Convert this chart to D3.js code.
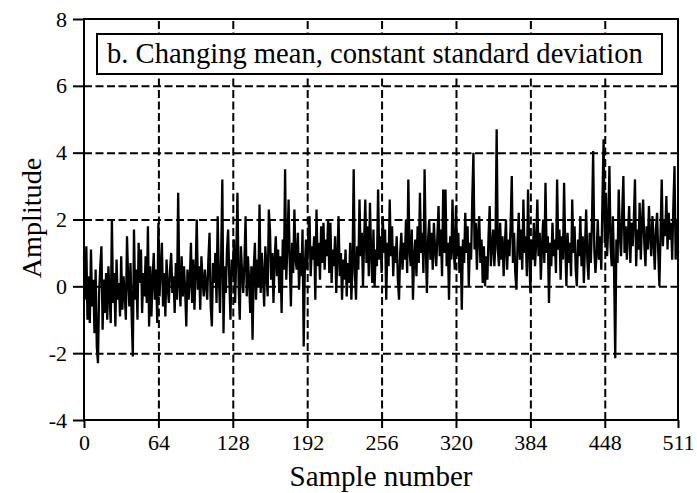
<!DOCTYPE html>
<html>
<head>
<meta charset="utf-8">
<script src="https://cdn.jsdelivr.net/npm/d3@7"></script>
</head>
<body style="margin:0">
<div class="chart"></div>
<script>
/* sample values, 32 per row */
const amplitude = [
  0.9,-0.4,1.2,-1.0,0.3,-1.1,1.1,-0.6,0.2,-1.4,0.5,-1.8,-2.3,-0.2,0.6,1.2,-1.3,0.2,-0.8,0.4,-1.0,0.6,-0.3,-1.1,2.0,-0.5,0.4,-1.2,0.8,-0.4,0.1,-0.9,
  0.9,-0.7,0.3,-0.2,-1.0,1.5,0.2,-0.6,0.7,-0.9,-2.1,1.7,-0.4,0.5,-1.0,1.3,0.1,1.1,-0.8,0.4,-0.3,0.9,-0.5,1.8,-1.2,0.6,-0.9,0.2,1.0,-0.4,0.5,-1.1,
  1.9,-0.3,0.6,1.3,-0.6,0.4,-0.9,0.8,0.0,-0.5,0.5,1.0,-0.2,0.3,-0.8,0.7,-0.4,2.8,0.1,-0.6,0.9,-0.3,0.6,-0.1,-1.2,0.5,-0.4,0.2,1.3,-0.5,0.8,-0.7,
  0.4,2.0,-0.1,0.6,-0.7,0.9,0.2,-0.3,0.5,0.0,-0.4,0.8,1.6,-0.6,-1.2,0.7,0.1,1.0,-0.5,2.1,0.3,-0.8,0.9,3.2,-1.4,0.6,-0.2,1.1,1.7,0.2,-1.0,0.8,
  0.3,1.4,-0.5,0.9,2.8,0.1,-1.0,1.2,0.4,-0.2,0.7,2.1,-0.3,0.9,0.2,-0.8,0.6,-1.6,0.5,1.3,-0.4,0.8,0.0,2.45,-0.2,1.0,0.3,-0.6,1.2,0.4,-0.3,2.3,
  1.7,0.2,1.0,-0.5,0.8,1.5,0.3,1.1,-0.2,0.9,-0.8,1.4,0.5,3.5,0.2,1.2,2.6,0.7,-0.6,1.3,0.4,2.3,0.8,0.5,1.6,-0.1,1.0,0.3,1.7,-1.8,0.6,1.4,
  0.5,1.6,2.1,0.3,1.2,0.8,1.5,-0.4,2.3,0.6,1.3,0.2,1.8,0.7,1.9,0.5,1.4,0.9,2.0,0.4,1.9,0.1,1.1,0.6,1.5,-0.2,0.9,2.1,0.3,1.0,-0.4,0.8,
  0.2,1.1,-0.3,0.7,0.1,1.3,-0.4,0.6,3.5,0.4,-0.4,1.2,0.5,2.6,0.9,1.6,0.0,1.4,2.6,0.7,1.8,0.3,2.5,1.0,0.1,1.7,0.0,1.1,0.6,2.9,0.8,1.5,
  0.4,2.1,1.0,1.7,-0.4,1.3,0.6,2.6,0.9,1.8,0.3,1.2,0.7,1.5,0.2,-0.4,1.0,1.6,0.5,1.3,0.8,2.0,0.4,3.2,1.1,0.6,1.7,-0.4,0.9,1.4,0.3,1.8,
  0.7,2.8,1.0,1.6,0.4,3.5,1.2,-0.2,1.4,2.0,0.8,1.6,0.5,1.9,1.1,0.6,1.5,2.4,0.9,1.7,0.3,2.9,1.0,2.9,0.6,1.3,-0.4,1.5,0.8,2.6,1.1,0.5,
  2.4,0.9,1.6,0.4,1.2,-0.7,1.4,0.7,2.2,1.0,1.8,0.0,1.3,0.8,2.6,4.0,1.1,1.9,0.5,1.6,2.1,0.7,1.4,0.1,1.2,0.0,0.9,0.2,1.5,2.4,0.6,1.2,
  1.7,0.6,1.3,4.7,1.1,0.6,1.9,0.8,1.5,0.3,1.2,2.0,0.5,1.4,0.9,1.8,3.3,0.7,1.6,0.4,-0.1,1.3,2.2,0.8,1.7,0.5,2.6,1.0,1.5,0.3,2.9,1.1,
  -0.2,1.4,0.8,1.9,0.6,1.3,2.6,0.9,1.6,0.2,1.2,2.0,0.7,3.1,1.0,1.5,-0.5,1.3,0.6,1.9,0.9,1.4,0.4,3.2,1.1,1.7,0.2,1.5,0.8,3.1,1.2,0.0,
  1.6,0.7,1.3,0.3,2.6,1.0,1.8,0.5,0.0,1.4,0.9,2.1,0.6,1.5,0.1,1.2,2.3,0.8,0.2,1.6,0.7,1.9,4.05,1.1,0.4,1.0,2.0,0.8,1.5,0.5,2.6,4.4,
  1.3,2.8,0.9,1.8,3.6,1.2,0.6,2.1,0.5,-2.15,1.4,0.7,2.9,1.5,0.9,2.2,3.3,1.0,1.8,0.8,1.6,2.4,0.7,1.9,1.2,2.0,3.2,0.6,1.7,1.1,2.5,0.8,
  1.9,2.6,1.3,0.6,1.8,1.1,2.4,1.5,0.9,2.1,1.4,0.5,1.7,2.2,1.0,0.0,1.6,3.2,1.2,2.0,1.5,2.7,1.1,2.2,1.4,1.9,0.8,2.4,3.6,0.8,2.0,1.0
];

/* axis ticks */
const xTicks = [0, 64, 128, 192, 256, 320, 384, 448, 511];
const yTicks = [-4, -2, 0, 2, 4, 6, 8];
const xGrid = [64, 128, 192, 256, 320, 384, 448];
const yGrid = [-2, 0, 2, 4, 6];

const titleText = "b. Changing mean, constant standard deviation";
const xLabel = "Sample number";
const yLabel = "Amplitude";

/* page and plot dimensions */
const W = 697, H = 493;
const margin = {top: 19, right: 19, bottom: 73, left: 84};
const plotLeft = margin.left, plotRight = W - margin.right;
const plotTop = margin.top, plotBottom = H - margin.bottom;

const svg = d3.select(".chart")
  .append("svg")
  .attr("width", W)
  .attr("height", H);

const xScale = d3.scaleLinear().domain([0, 511]).range([plotLeft, plotRight]);
const yScale = d3.scaleLinear().domain([-4, 8]).range([plotBottom, plotTop]);

/* serif text at the size that rendered fine for the tick labels */
function serifText(sel) {
  sel.attr("font-size", 22)
    .style("font-family", '"Liberation Serif"')
    .attr("fill", "#000");
}

/* dashed grid */
svg.append("g")
  .attr("transform", `translate(${plotLeft},0)`)
  .call(d3.axisLeft(yScale).tickValues(yGrid).tickSize(-(plotRight - plotLeft)).tickFormat(""))
  .call(g => g.select(".domain").remove())
  .call(g => g.selectAll("line").attr("stroke", "#000").attr("stroke-width", 2).attr("stroke-dasharray", "8,3.5"));

svg.append("g")
  .attr("transform", `translate(0,${plotBottom})`)
  .call(d3.axisBottom(xScale).tickValues(xGrid).tickSize(-(plotBottom - plotTop)).tickFormat(""))
  .call(g => g.select(".domain").remove())
  .call(g => g.selectAll("line").attr("stroke", "#000").attr("stroke-width", 2).attr("stroke-dasharray", "8,3.5"));

/* signal */
const line = d3.line()
  .x((d, i) => xScale(i))
  .y(d => yScale(d));

svg.append("path")
  .datum(amplitude)
  .attr("fill", "none")
  .attr("stroke", "#000")
  .attr("stroke-width", 2.3)
  .attr("d", line);

/* frame */
svg.append("rect")
  .attr("x", plotLeft).attr("y", plotTop)
  .attr("width", plotRight - plotLeft).attr("height", plotBottom - plotTop)
  .attr("fill", "none").attr("stroke", "#000").attr("stroke-width", 2);

/* axes with outward ticks */
svg.append("g")
  .attr("transform", `translate(${plotLeft},0)`)
  .call(d3.axisLeft(yScale).tickValues(yTicks).tickSize(11).tickPadding(6).tickFormat(d => String(d)))
  .call(g => g.select(".domain").remove())
  .call(g => g.attr("font-family", null).attr("font-size", null))
  .call(g => g.selectAll("line").attr("stroke", "#000").attr("stroke-width", 2))
  .call(g => g.selectAll("text").call(serifText));

svg.append("g")
  .attr("transform", `translate(0,${plotBottom})`)
  .call(d3.axisBottom(xScale).tickValues(xTicks).tickSize(8).tickPadding(6).tickFormat(d => String(d)))
  .call(g => g.select(".domain").remove())
  .call(g => g.attr("font-family", null).attr("font-size", null))
  .call(g => g.selectAll("line").attr("stroke", "#000").attr("stroke-width", 2))
  .call(g => g.selectAll("text").call(serifText));

/* axis titles: 22px text scaled up in a group */
svg.append("g")
  .attr("transform", `translate(${(plotLeft + plotRight) / 2},486) scale(1.32)`)
  .append("text")
  .attr("x", 0).attr("y", 0)
  .attr("text-anchor", "middle")
  .call(serifText)
  .text(xLabel);

svg.append("g")
  .attr("transform", "translate(41,218) rotate(-90) scale(1.28)")
  .append("text")
  .attr("x", 0).attr("y", 0)
  .attr("text-anchor", "middle")
  .call(serifText)
  .text(yLabel);

/* title box */
svg.append("rect")
  .attr("x", 97).attr("y", 34)
  .attr("width", 565).attr("height", 40)
  .attr("fill", "#fff").attr("stroke", "#000").attr("stroke-width", 2);

svg.append("g")
  .attr("transform", "translate(107,63) scale(1.3)")
  .append("text")
  .attr("x", 0).attr("y", 0)
  .call(serifText)
  .text(titleText);
</script>
</body>
</html>
